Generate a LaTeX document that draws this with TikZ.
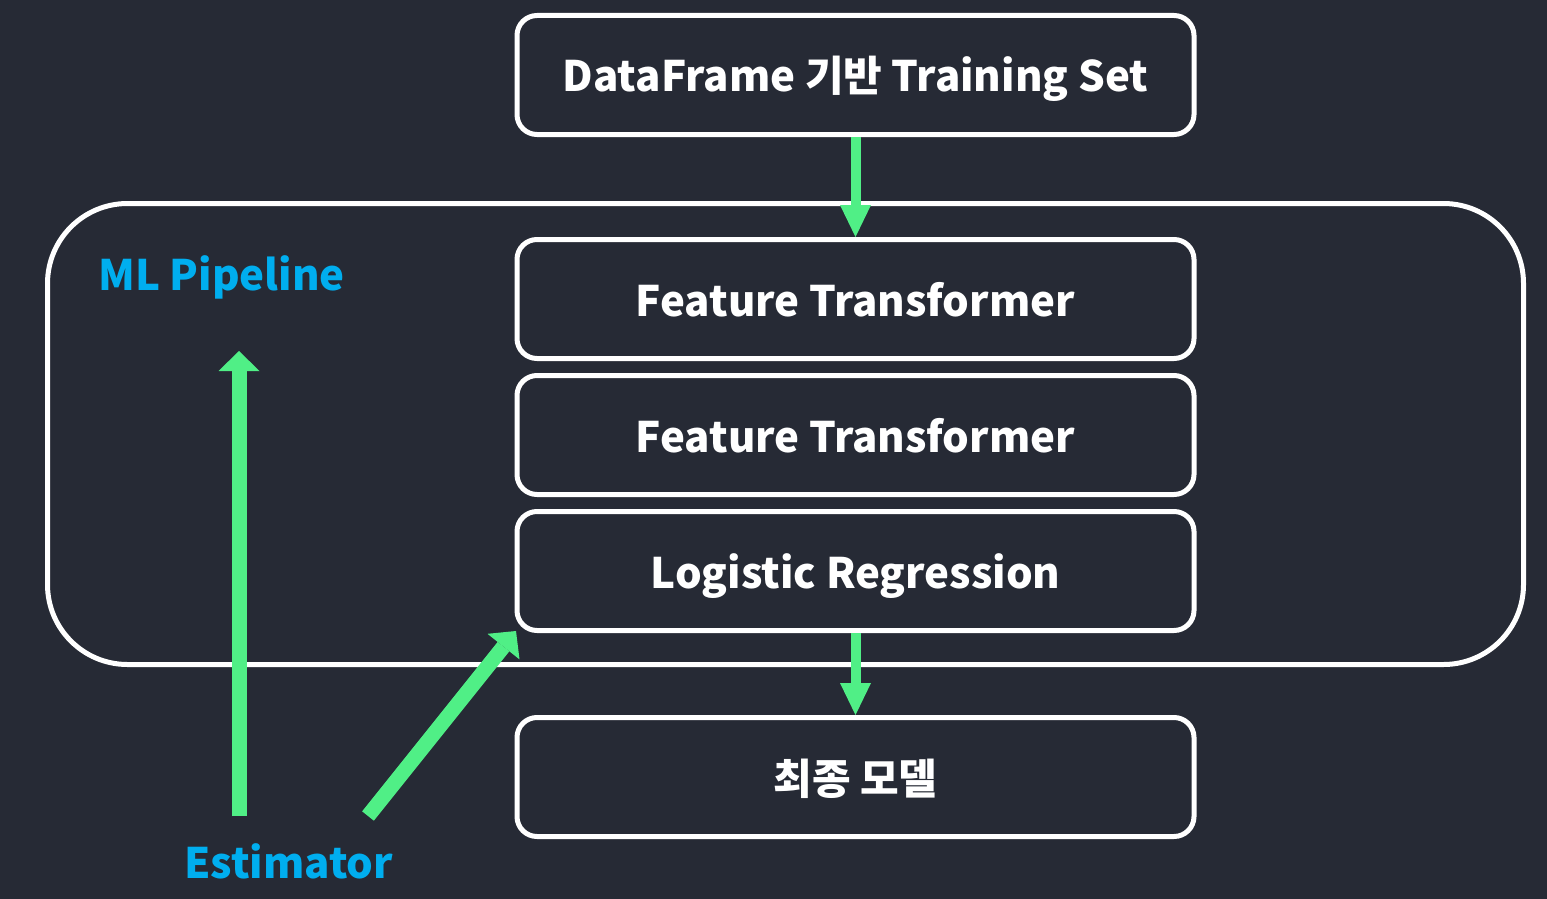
\documentclass[tikz,border=0pt]{standalone}
\usepackage{fontspec}
\setmainfont{Noto Sans CJK KR}
\usetikzlibrary{arrows.meta}
\definecolor{bg}{HTML}{262A35}
\definecolor{grn}{HTML}{50EF86}
\definecolor{blu}{HTML}{00AEEF}
\tikzset{
  stagebox/.style={draw=white, line width=5pt, rounded corners=20pt, fill=bg,
    minimum width=677pt, minimum height=119pt, inner sep=0pt,
    text height=34pt, text depth=0pt,
    text=white, font=\bfseries\fontsize{42}{50}\selectfont},
  flowarrow/.style={draw=grn, line width=10pt, -{Triangle[width=31pt,length=32pt,line width=0pt]}},
  estarrow/.style={draw=grn, line width=15pt, -{Triangle[width=41pt,length=20pt,line width=0pt]}},
  bluelabel/.style={text=blu, inner sep=0pt, font=\bfseries\fontsize{42}{50}\selectfont}
}
\begin{document}
\begin{tikzpicture}[x=1pt,y=-1pt]
\fill[bg] (0,0) rectangle (1547,899);
\useasboundingbox (0,0) rectangle (1547,899);
\node[draw=white, line width=5pt, rounded corners=80pt, minimum width=1476pt, minimum height=461pt, inner sep=0pt] (pipe) at (785.5,434) {};
\node[stagebox] (data) at (855.5,75) {DataFrame 기반 Training Set};
\node[stagebox] (ft1) at (855.5,299) {Feature Transformer};
\node[stagebox] (ft2) at (855.5,435) {Feature Transformer};
\node[stagebox] (lr) at (855.5,571) {Logistic Regression};
\node[stagebox] (final) at (855.5,777) {최종 모델};
\node[bluelabel, anchor=base west] (mlp) at (98,290) {ML Pipeline};
\node[bluelabel, anchor=base west] (est) at (184,878) {Estimator};
\draw[flowarrow] (data.south) -- (ft1.north);
\draw[flowarrow] (lr.south) -- (final.north);
\coordinate (upstart) at (239,816);
\coordinate (upend) at (239,351);
\coordinate (diagstart) at (368,816);
\coordinate (diagend) at (516,631);
\draw[estarrow] (upstart) -- (upend);
\draw[estarrow] (diagstart) -- (diagend);
\end{tikzpicture}
\end{document}
